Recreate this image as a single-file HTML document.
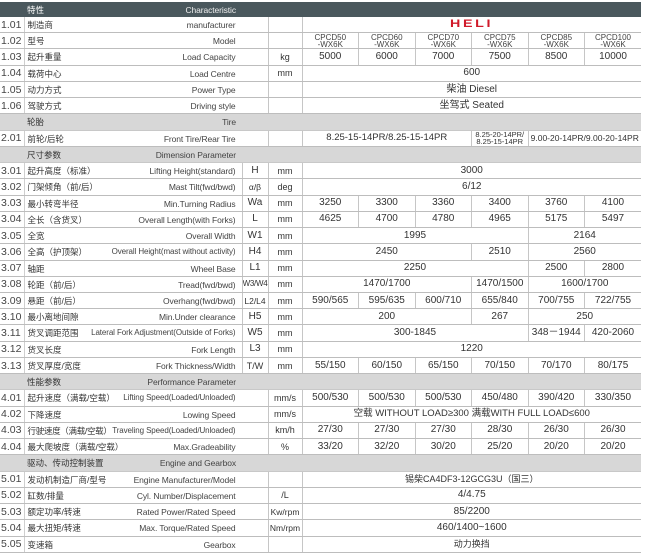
<!DOCTYPE html>
<html><head><meta charset="utf-8">
<style>
html,body{margin:0;padding:0;background:#fff;width:646px;height:558px;overflow:hidden}
body{font-family:"Liberation Sans","Noto Sans CJK SC",sans-serif;color:#333}
table{position:absolute;left:0;top:2px;width:641px;border-collapse:collapse;table-layout:fixed}
td{padding:0;height:15.24px;border-bottom:1px solid #bdbdbd;white-space:nowrap;overflow:hidden;font-size:10px;text-align:center;vertical-align:middle;line-height:12px}
td.n{font-size:10.5px;text-align:left;padding-left:1px;color:#444;border-right:1px solid #cfcfcf}
td.l{text-align:left;position:relative}
td.l .c{position:absolute;left:3px;top:2px;font-size:8.5px}
td.l .e{position:absolute;right:6px;top:2px;font-size:8.5px;color:#444;letter-spacing:-0.1px}
td.l[colspan] .e{right:32px}
td.l .e.sm{font-size:8px}
td.s,td.u,td.d{border-left:1px solid #c6c6c6}
td.u{font-size:9px}
td.s{font-size:10px}
tr.hd td{background:#4a585d;color:#fff;height:15px;border-bottom:none}
tr.hd td .e{color:#eee}
tr.sec td{background:#d7d7d7;border-bottom:1px solid #c8c8c8}
.m{font-size:8px;line-height:7px;color:#444}
.tiny{font-size:7.5px;line-height:7.5px}
.heli{color:#d01a2a;font-weight:900;font-size:11px;letter-spacing:2px;display:inline-block;transform:scaleX(1.3)}
</style></head><body>
<table>
<colgroup><col style="width:24px"><col style="width:218px"><col style="width:26px"><col style="width:34px"><col style="width:56.5px"><col style="width:56.5px"><col style="width:56.5px"><col style="width:56.5px"><col style="width:56.5px"><col style="width:56.5px"></colgroup>
<tr class="hd"><td class="n" style="border-right:none"></td><td class="l" colspan="2"><span class="c">特性</span><span class="e">Characteristic</span></td><td colspan="7"></td></tr>
<tr><td class="n">1.01</td><td class="l" colspan="2"><span class="c">制造商</span><span class="e">manufacturer</span></td><td class="u"></td><td class="d" colspan="6"><span class="heli">HELI</span></td></tr>
<tr><td class="n">1.02</td><td class="l" colspan="2"><span class="c">型号</span><span class="e">Model</span></td><td class="u"></td><td class="d m">CPCD50<br>-WX6K</td><td class="d m">CPCD60<br>-WX6K</td><td class="d m">CPCD70<br>-WX6K</td><td class="d m">CPCD75<br>-WX6K</td><td class="d m">CPCD85<br>-WX6K</td><td class="d m">CPCD100<br>-WX6K</td></tr>
<tr><td class="n">1.03</td><td class="l" colspan="2"><span class="c">起升重量</span><span class="e">Load Capacity</span></td><td class="u">kg</td><td class="d">5000</td><td class="d">6000</td><td class="d">7000</td><td class="d">7500</td><td class="d">8500</td><td class="d">10000</td></tr>
<tr><td class="n">1.04</td><td class="l" colspan="2"><span class="c">载荷中心</span><span class="e">Load Centre</span></td><td class="u">mm</td><td class="d" colspan="6">600</td></tr>
<tr><td class="n">1.05</td><td class="l" colspan="2"><span class="c">动力方式</span><span class="e">Power Type</span></td><td class="u"></td><td class="d" colspan="6">柴油 Diesel</td></tr>
<tr><td class="n">1.06</td><td class="l" colspan="2"><span class="c">驾驶方式</span><span class="e">Driving style</span></td><td class="u"></td><td class="d" colspan="6">坐驾式 Seated</td></tr>
<tr class="sec"><td class="n" style="border-right:none"></td><td class="l" colspan="2"><span class="c">轮胎</span><span class="e">Tire</span></td><td colspan="7"></td></tr>
<tr><td class="n">2.01</td><td class="l" colspan="2"><span class="c">前轮/后轮</span><span class="e">Front Tire/Rear Tire</span></td><td class="u"></td><td class="d" colspan="3" style="font-size:9.5px">8.25-15-14PR/8.25-15-14PR</td><td class="d tiny">8.25-20-14PR/<br>8.25-15-14PR</td><td class="d" colspan="2" style="font-size:8.5px">9.00-20-14PR/9.00-20-14PR</td></tr>
<tr class="sec"><td class="n" style="border-right:none"></td><td class="l" colspan="2"><span class="c">尺寸参数</span><span class="e">Dimension Parameter</span></td><td colspan="7"></td></tr>
<tr><td class="n">3.01</td><td class="l"><span class="c">起升高度（标准）</span><span class="e">Lifting Height(standard)</span></td><td class="s">H</td><td class="u">mm</td><td class="d" colspan="6">3000</td></tr>
<tr><td class="n">3.02</td><td class="l"><span class="c">门架倾角（前/后）</span><span class="e">Mast Tilt(fwd/bwd)</span></td><td class="s" style="font-size:8.5px">α/β</td><td class="u">deg</td><td class="d" colspan="6">6/12</td></tr>
<tr><td class="n">3.03</td><td class="l"><span class="c">最小转弯半径</span><span class="e">Min.Turning Radius</span></td><td class="s">Wa</td><td class="u">mm</td><td class="d">3250</td><td class="d">3300</td><td class="d">3360</td><td class="d">3400</td><td class="d">3760</td><td class="d">4100</td></tr>
<tr><td class="n">3.04</td><td class="l"><span class="c">全长（含货叉）</span><span class="e">Overall Length(with Forks)</span></td><td class="s">L</td><td class="u">mm</td><td class="d">4625</td><td class="d">4700</td><td class="d">4780</td><td class="d">4965</td><td class="d">5175</td><td class="d">5497</td></tr>
<tr><td class="n">3.05</td><td class="l"><span class="c">全宽</span><span class="e">Overall Width</span></td><td class="s">W1</td><td class="u">mm</td><td class="d" colspan="4">1995</td><td class="d" colspan="2">2164</td></tr>
<tr><td class="n">3.06</td><td class="l"><span class="c">全高（护顶架）</span><span class="e sm">Overall Height(mast without activity)</span></td><td class="s">H4</td><td class="u">mm</td><td class="d" colspan="3">2450</td><td class="d">2510</td><td class="d" colspan="2">2560</td></tr>
<tr><td class="n">3.07</td><td class="l"><span class="c">轴距</span><span class="e">Wheel Base</span></td><td class="s">L1</td><td class="u">mm</td><td class="d" colspan="4">2250</td><td class="d">2500</td><td class="d">2800</td></tr>
<tr><td class="n">3.08</td><td class="l"><span class="c">轮距（前/后）</span><span class="e">Tread(fwd/bwd)</span></td><td class="s" style="font-size:8px;letter-spacing:-0.3px">W3/W4</td><td class="u">mm</td><td class="d" colspan="3">1470/1700</td><td class="d">1470/1500</td><td class="d" colspan="2">1600/1700</td></tr>
<tr><td class="n">3.09</td><td class="l"><span class="c">悬距（前/后）</span><span class="e">Overhang(fwd/bwd)</span></td><td class="s" style="font-size:8.5px">L2/L4</td><td class="u">mm</td><td class="d">590/565</td><td class="d">595/635</td><td class="d">600/710</td><td class="d">655/840</td><td class="d">700/755</td><td class="d">722/755</td></tr>
<tr><td class="n">3.10</td><td class="l"><span class="c">最小离地间隙</span><span class="e">Min.Under clearance</span></td><td class="s">H5</td><td class="u">mm</td><td class="d" colspan="3">200</td><td class="d">267</td><td class="d" colspan="2">250</td></tr>
<tr><td class="n">3.11</td><td class="l"><span class="c">货叉调距范围</span><span class="e sm">Lateral Fork Adjustment(Outside of Forks)</span></td><td class="s">W5</td><td class="u">mm</td><td class="d" colspan="4">300-1845</td><td class="d">348－1944</td><td class="d">420-2060</td></tr>
<tr><td class="n">3.12</td><td class="l"><span class="c">货叉长度</span><span class="e">Fork Length</span></td><td class="s">L3</td><td class="u">mm</td><td class="d" colspan="6">1220</td></tr>
<tr><td class="n">3.13</td><td class="l"><span class="c">货叉厚度/宽度</span><span class="e">Fork Thickness/Width</span></td><td class="s" style="font-size:9px">T/W</td><td class="u">mm</td><td class="d">55/150</td><td class="d">60/150</td><td class="d">65/150</td><td class="d">70/150</td><td class="d">70/170</td><td class="d">80/175</td></tr>
<tr class="sec"><td class="n" style="border-right:none"></td><td class="l" colspan="2"><span class="c">性能参数</span><span class="e">Performance Parameter</span></td><td colspan="7"></td></tr>
<tr><td class="n">4.01</td><td class="l" colspan="2"><span class="c">起升速度（满载/空载）</span><span class="e sm">Lifting Speed(Loaded/Unloaded)</span></td><td class="u">mm/s</td><td class="d">500/530</td><td class="d">500/530</td><td class="d">500/530</td><td class="d">450/480</td><td class="d">390/420</td><td class="d">330/350</td></tr>
<tr><td class="n">4.02</td><td class="l" colspan="2"><span class="c">下降速度</span><span class="e">Lowing Speed</span></td><td class="u">mm/s</td><td class="d" colspan="6" style="font-size:9.5px">空载 WITHOUT LOAD≥300  满载WITH FULL LOAD≤600</td></tr>
<tr><td class="n">4.03</td><td class="l" colspan="2"><span class="c" style="letter-spacing:-0.3px">行驶速度（满载/空载）</span><span class="e sm">Traveling Speed(Loaded/Unloaded)</span></td><td class="u">km/h</td><td class="d">27/30</td><td class="d">27/30</td><td class="d">27/30</td><td class="d">28/30</td><td class="d">26/30</td><td class="d">26/30</td></tr>
<tr><td class="n">4.04</td><td class="l" colspan="2"><span class="c">最大爬坡度（满载/空载）</span><span class="e">Max.Gradeability</span></td><td class="u">%</td><td class="d">33/20</td><td class="d">32/20</td><td class="d">30/20</td><td class="d">25/20</td><td class="d">20/20</td><td class="d">20/20</td></tr>
<tr class="sec"><td class="n" style="border-right:none"></td><td class="l" colspan="2"><span class="c">驱动、传动控制装置</span><span class="e">Engine  and Gearbox</span></td><td colspan="7"></td></tr>
<tr><td class="n">5.01</td><td class="l" colspan="2"><span class="c">发动机制造厂商/型号</span><span class="e">Engine Manufacturer/Model</span></td><td class="u"></td><td class="d" colspan="6" style="font-size:9px">锡柴CA4DF3-12GCG3U（国三）</td></tr>
<tr><td class="n">5.02</td><td class="l" colspan="2"><span class="c">缸数/排量</span><span class="e">Cyl. Number/Displacement</span></td><td class="u">/L</td><td class="d" colspan="6">4/4.75</td></tr>
<tr><td class="n">5.03</td><td class="l" colspan="2"><span class="c">额定功率/转速</span><span class="e">Rated Power/Rated Speed</span></td><td class="u" style="font-size:8.5px">Kw/rpm</td><td class="d" colspan="6">85/2200</td></tr>
<tr><td class="n">5.04</td><td class="l" colspan="2"><span class="c">最大扭矩/转速</span><span class="e">Max. Torque/Rated Speed</span></td><td class="u" style="font-size:8.5px">Nm/rpm</td><td class="d" colspan="6">460/1400~1600</td></tr>
<tr><td class="n">5.05</td><td class="l" colspan="2"><span class="c">变速箱</span><span class="e">Gearbox</span></td><td class="u"></td><td class="d" colspan="6" style="font-size:9px">动力换挡</td></tr>
</table>
</body></html>
